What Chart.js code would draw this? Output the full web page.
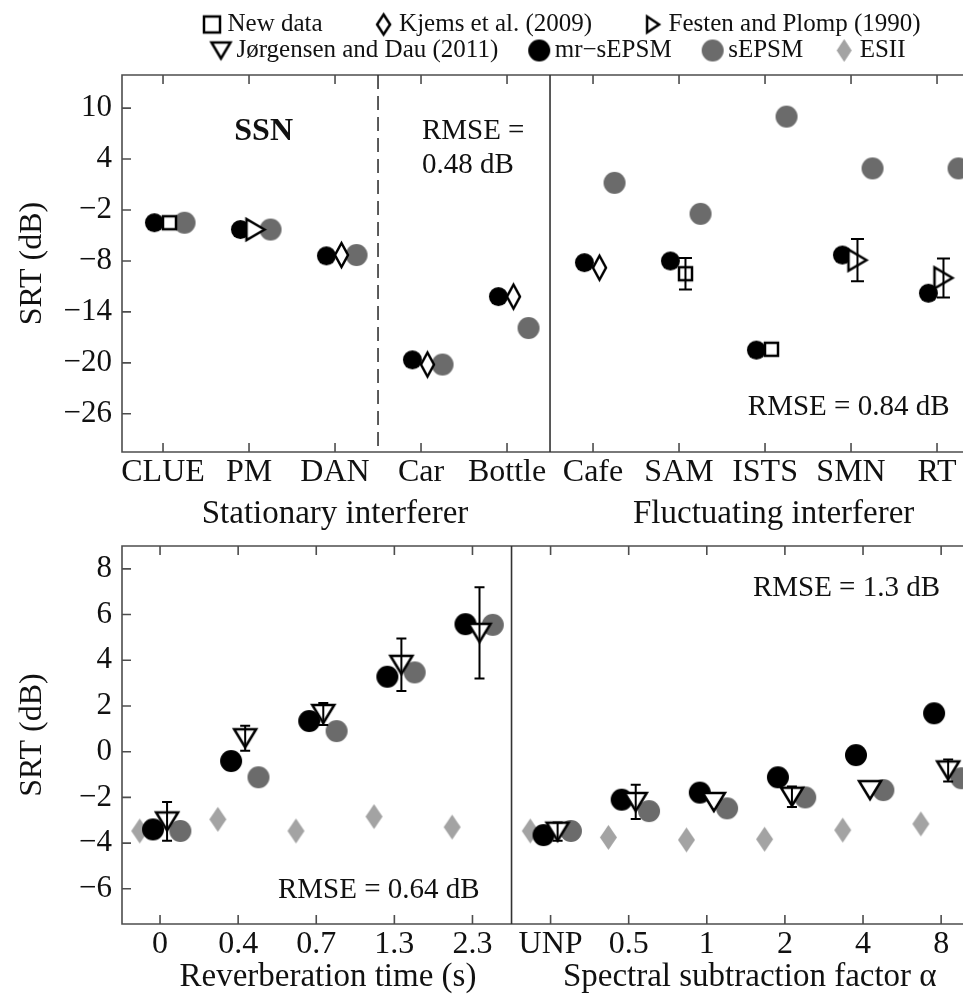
<!DOCTYPE html>
<html>
<head>
<meta charset="utf-8">
<script src="https://cdn.jsdelivr.net/npm/chart.js@4"></script>
<style>
  html, body { margin: 0; padding: 0; background: #fff; overflow: hidden; }
  #wrap { position: relative; width: 963px; height: 1002px; overflow: hidden; }
  canvas { position: absolute; left: 0; }
</style>
</head>
<body>
<div id="wrap">
  <canvas id="topChart" width="963" height="540" style="top:0"></canvas>
  <canvas id="bottomChart" width="963" height="462" style="top:540px"></canvas>
  <canvas id="legendRow1" width="1150" height="200" style="top:-46px"></canvas>
  <canvas id="legendRow2" width="1150" height="160" style="top:0px"></canvas>
</div>
<script>
// Series names (legend order)
const seriesNames = ['New data', 'Kjems et al. (2009)', 'Festen and Plomp (1990)',
  'Jørgensen and Dau (2011)', 'mr\u2212sEPSM', 'sEPSM', 'ESII'];

// Upper panel: stationary + fluctuating interferers
const topCategories = ['CLUE', 'PM', 'DAN', 'Car', 'Bottle', 'Cafe', 'SAM', 'ISTS', 'SMN', 'RT'];
const topNewData   = [-3.5, null, null, null, null, null, -9.5, -18.4, null, null];
const topNewDataSd = [null, null, null, null, null, null, 1.85, null, null, null];
const topKjems     = [null, null, -7.3, -20.2, -12.2, -8.8, null, null, null, null];
const topFesten    = [null, -4.3, null, null, null, null, null, null, -7.9, -10.0];
const topFestenSd  = [null, null, null, null, null, null, null, null, 2.5, 2.3];
const topMrSEPSM   = [-3.5, -4.3, -7.4, -19.65, -12.2, -8.2, -8.0, -18.5, -7.3, -11.8];
const topSEPSM     = [-3.5, -4.3, -7.3, -20.2, -15.9, 1.2, -2.45, 9.0, 2.9, 2.9];
const topYTicks    = [-26, -20, -14, -8, -2, 4, 10];

// Lower panel: reverberation + spectral subtraction
const bottomCategories = ['0', '0.4', '0.7', '1.3', '2.3', 'UNP', '0.5', '1', '2', '4', '8'];
const bottomJorgensen   = [-3.05, 0.59, 1.65, 3.8, 5.2, -3.5, -2.2, -2.2, -1.97, -1.68, -0.82];
const bottomJorgensenSd = [0.85, 0.55, 0.48, 1.15, 2.0, 0.4, 0.75, null, 0.45, null, 0.48];
const bottomMrSEPSM     = [-3.4, -0.41, 1.34, 3.28, 5.58, -3.65, -2.1, -1.79, -1.12, -0.15, 1.68];
const bottomSEPSM       = [-3.47, -1.12, 0.9, 3.47, 5.55, -3.47, -2.6, -2.48, -2.0, -1.68, -1.16];
const bottomESII        = [-3.47, -2.96, -3.47, -2.84, -3.3, -3.47, -3.75, -3.86, -3.83, -3.43, -3.16];
const bottomYTicks      = [-6, -4, -2, 0, 2, 4, 6, 8];

const serif = "'Liberation Serif', 'Times New Roman', 'DejaVu Serif', serif";
const ink = '#111';
Chart.defaults.font.family = serif;
Chart.defaults.color = ink;

const fmt = v => String(v).replace('-', '\u2212');

// marker glyphs drawn into small canvases, used as pointStyle
function marker(shape, w, h, fill, stroke, lw) {
  const c = document.createElement('canvas');
  const pad = lw ? Math.ceil(lw * 1.5) : 1;
  c.width = Math.ceil(w + 2 * pad);
  c.height = Math.ceil(h + 2 * pad);
  const g = c.getContext('2d');
  g.translate(c.width / 2, c.height / 2);
  g.beginPath();
  if (shape === 'circle') g.ellipse(0, 0, w / 2, h / 2, 0, 0, Math.PI * 2);
  else if (shape === 'square') g.rect(-w / 2, -h / 2, w, h);
  else if (shape === 'diamond') { g.moveTo(0, -h / 2); g.lineTo(w / 2, 0); g.lineTo(0, h / 2); g.lineTo(-w / 2, 0); g.closePath(); }
  else if (shape === 'triRight') { g.moveTo(w / 2, 0); g.lineTo(-w / 2, -h / 2); g.lineTo(-w / 2, h / 2); g.closePath(); }
  else if (shape === 'triDown') { g.moveTo(0, h / 2); g.lineTo(-w / 2, -h / 2); g.lineTo(w / 2, -h / 2); g.closePath(); }
  g.fillStyle = fill;
  g.fill();
  if (lw) { g.lineWidth = lw; g.strokeStyle = stroke; g.stroke(); }
  return c;
}

const gray = '#6b6b6b';
const lightGray = '#a3a3a3';

function points(values, offset, sd) {
  const out = [];
  values.forEach((v, i) => {
    if (v === null) return;
    out.push({ x: i + offset, y: v, sd: sd ? sd[i] : null });
  });
  return out;
}

function scatterSet(label, data, style) {
  return { label, data, pointStyle: style, pointRadius: 10, showLine: false, clip: false };
}

// frame, inward ticks and section dividers
const framePlugin = {
  id: 'frame',
  beforeDatasetsDraw(chart, args, opts) {
    const { ctx, chartArea: a, scales: { x, y } } = chart;
    ctx.save();
    ctx.strokeStyle = '#4d4d4d';
    ctx.lineWidth = 1.6;
    ctx.beginPath();
    ctx.moveTo(a.right + 2, a.top);
    ctx.lineTo(a.left, a.top);
    ctx.lineTo(a.left, a.bottom);
    ctx.lineTo(a.right + 2, a.bottom);
    x.ticks.forEach(t => {
      const px = x.getPixelForValue(t.value);
      ctx.moveTo(px, a.bottom); ctx.lineTo(px, a.bottom - 9);
      ctx.moveTo(px, a.top); ctx.lineTo(px, a.top + 9);
    });
    y.ticks.forEach(t => {
      const py = y.getPixelForValue(t.value);
      ctx.moveTo(a.left, py); ctx.lineTo(a.left + 9, py);
    });
    ctx.stroke();
    ctx.strokeStyle = '#333';
    opts.dividers.forEach(d => {
      const px = x.getPixelForValue(d.at);
      ctx.setLineDash(d.dash || []);
      ctx.beginPath();
      ctx.moveTo(px, a.top);
      ctx.lineTo(px, a.bottom);
      ctx.stroke();
    });
    ctx.restore();
  }
};

const errorBarPlugin = {
  id: 'errorBars',
  afterDatasetsDraw(chart, args, opts) {
    const { ctx, scales: { x, y } } = chart;
    ctx.save();
    ctx.strokeStyle = '#000';
    ctx.lineWidth = 2;
    chart.data.datasets.forEach(ds => ds.data.forEach(p => {
      if (!p.sd) return;
      const px = x.getPixelForValue(p.x);
      const y1 = y.getPixelForValue(p.y + p.sd);
      const y2 = y.getPixelForValue(p.y - p.sd);
      const c = opts.cap / 2;
      ctx.beginPath();
      ctx.moveTo(px, y1); ctx.lineTo(px, y2);
      ctx.moveTo(px - c, y1); ctx.lineTo(px + c, y1);
      ctx.moveTo(px - c, y2); ctx.lineTo(px + c, y2);
      ctx.stroke();
    }));
    ctx.restore();
  }
};

const textPlugin = {
  id: 'texts',
  afterDraw(chart, args, opts) {
    const { ctx, chartArea: a, scales: { x, y } } = chart;
    ctx.save();
    ctx.fillStyle = ink;
    ctx.textBaseline = 'middle';
    ctx.textAlign = 'center';
    ctx.font = '33px ' + serif;
    opts.groups.forEach(g => ctx.fillText(g.text, x.getPixelForValue(g.at), a.bottom + opts.groupOffset));
    opts.notes.forEach(n => {
      ctx.font = (n.bold ? 'bold ' : '') + n.size + 'px ' + serif;
      ctx.textAlign = n.align || 'left';
      ctx.fillText(n.text, x.getPixelForValue(n.x), y.getPixelForValue(n.y));
    });
    ctx.restore();
  }
};

function panel(id, cfg) {
  return new Chart(document.getElementById(id), {
    type: 'scatter',
    data: { datasets: cfg.datasets },
    plugins: [framePlugin, errorBarPlugin, textPlugin],
    options: {
      responsive: false,
      animation: false,
      events: [],
      layout: { autoPadding: false, padding: { top: cfg.padTop, left: 0, right: 0, bottom: 0 } },
      scales: {
        x: {
          type: 'linear', min: cfg.xMin, max: cfg.xMax,
          afterBuildTicks: s => { s.ticks = cfg.categories.map((_, i) => ({ value: i })); },
          afterFit: s => { s.height = cfg.xHeight; s.paddingLeft = 0; s.paddingRight = 0; },
          grid: { display: false, drawTicks: false },
          border: { display: false },
          ticks: { autoSkip: false, maxRotation: 0, minRotation: 0, padding: 1,
            font: { size: 32 }, color: ink, callback: v => cfg.categories[v] }
        },
        y: {
          type: 'linear', min: cfg.yMin, max: cfg.yMax,
          afterBuildTicks: s => { s.ticks = cfg.yTicks.map(v => ({ value: v })); },
          afterFit: s => { s.width = 122; s.paddingTop = 0; s.paddingBottom = 0; },
          grid: { display: false, drawTicks: false },
          border: { display: false },
          ticks: { padding: 10, font: { size: 31 }, color: ink, callback: v => fmt(v) },
          title: { display: true, text: 'SRT (dB)', color: ink, font: { size: 32 }, padding: { top: 13, bottom: 0 } }
        }
      },
      plugins: {
        legend: { display: false },
        tooltip: { enabled: false },
        frame: { dividers: cfg.dividers },
        errorBars: { cap: cfg.cap },
        texts: { groups: cfg.groups, groupOffset: cfg.groupOffset, notes: cfg.notes }
      }
    }
  });
}

// upper panel
const topStyle = {
  newData: marker('square', 13, 13, '#fff', '#000', 2.5),
  kjems: marker('diamond', 13, 24, '#fff', '#000', 2.5),
  festen: marker('triRight', 18, 21, '#fff', '#000', 2.5),
  mr: marker('circle', 19, 19, '#000'),
  s: marker('circle', 22, 22, gray)
};
panel('topChart', {
  categories: topCategories, yTicks: topYTicks,
  xMin: -0.477, xMax: 9.302, yMin: -30.5, yMax: 13.9,
  padTop: 75, xHeight: 88, cap: 13,
  dividers: [{ at: 2.5, dash: [14, 7] }, { at: 4.5 }],
  groups: [{ text: 'Stationary interferer', at: 2 }, { text: 'Fluctuating interferer', at: 7.1 }],
  groupOffset: 62,
  notes: [
    { text: 'SSN', x: 1.17, y: 7.2, size: 32, bold: true, align: 'center' },
    { text: 'RMSE =', x: 3.01, y: 7.2, size: 29 },
    { text: '0.48 dB', x: 3.01, y: 3.3, size: 29 },
    { text: 'RMSE = 0.84 dB', x: 6.8, y: -25.2, size: 29 }
  ],
  datasets: [
    scatterSet(seriesNames[0], points(topNewData, 0.075, topNewDataSd), topStyle.newData),
    scatterSet(seriesNames[1], points(topKjems, 0.075), topStyle.kjems),
    scatterSet(seriesNames[2], points(topFesten, 0.075, topFestenSd), topStyle.festen),
    scatterSet(seriesNames[4], points(topMrSEPSM, -0.1), topStyle.mr),
    scatterSet(seriesNames[5], points(topSEPSM, 0.25), topStyle.s)
  ]
});

// lower panel
const bottomStyle = {
  jorg: marker('triDown', 22, 18, '#fff', '#000', 2.5),
  mr: marker('circle', 22, 22, '#000'),
  s: marker('circle', 22, 22, gray),
  esii: marker('diamond', 17, 25, lightGray)
};
panel('bottomChart', {
  categories: bottomCategories, yTicks: bottomYTicks,
  xMin: -0.487, xMax: 10.28, yMin: -7.54, yMax: 9.0,
  padTop: 6, xHeight: 78, cap: 10,
  dividers: [{ at: 4.5 }],
  groups: [{ text: 'Reverberation time (s)', at: 2.15 }, { text: 'Spectral subtraction factor \u03b1', at: 7.55 }],
  groupOffset: 53.5,
  notes: [
    { text: 'RMSE = 0.64 dB', x: 1.51, y: -6.05, size: 29 },
    { text: 'RMSE = 1.3 dB', x: 7.59, y: 7.16, size: 29 }
  ],
  datasets: [
    scatterSet(seriesNames[3], points(bottomJorgensen, 0.09, bottomJorgensenSd), bottomStyle.jorg),
    scatterSet(seriesNames[4], points(bottomMrSEPSM, -0.09), bottomStyle.mr),
    scatterSet(seriesNames[5], points(bottomSEPSM, 0.26), bottomStyle.s),
    scatterSet(seriesNames[6], points(bottomESII, -0.26), bottomStyle.esii)
  ]
});

// legend, two rows with their own spacing
const legendStyle = [
  marker('square', 16, 16, '#fff', '#000', 2.5),
  marker('diamond', 13, 20, '#fff', '#000', 2.5),
  marker('triRight', 12, 16, '#fff', '#000', 2.5),
  marker('triDown', 19, 16, '#fff', '#000', 2.5),
  marker('circle', 22, 22, '#000'),
  marker('circle', 22, 22, gray),
  marker('diamond', 15, 23, lightGray)
];
function legendRow(id, indices, pad, left) {
  new Chart(document.getElementById(id), {
    type: 'scatter',
    data: { datasets: indices.map(i => ({ label: seriesNames[i], data: [], pointStyle: legendStyle[i] })) },
    options: {
      responsive: false, animation: false, events: [],
      layout: { padding: { left, top: 0, right: 0, bottom: 0 } },
      scales: { x: { display: false }, y: { display: false } },
      plugins: {
        tooltip: { enabled: false },
        legend: {
          position: 'top', align: 'start',
          labels: { usePointStyle: true, boxWidth: 6, boxHeight: 6, padding: pad, color: ink, font: { size: 25 } }
        }
      }
    }
  });
}
legendRow('legendRow1', [0, 1, 2], 58, 151);
legendRow('legendRow2', [3, 4, 5, 6], 38, 180);
</script>
</body>
</html>
